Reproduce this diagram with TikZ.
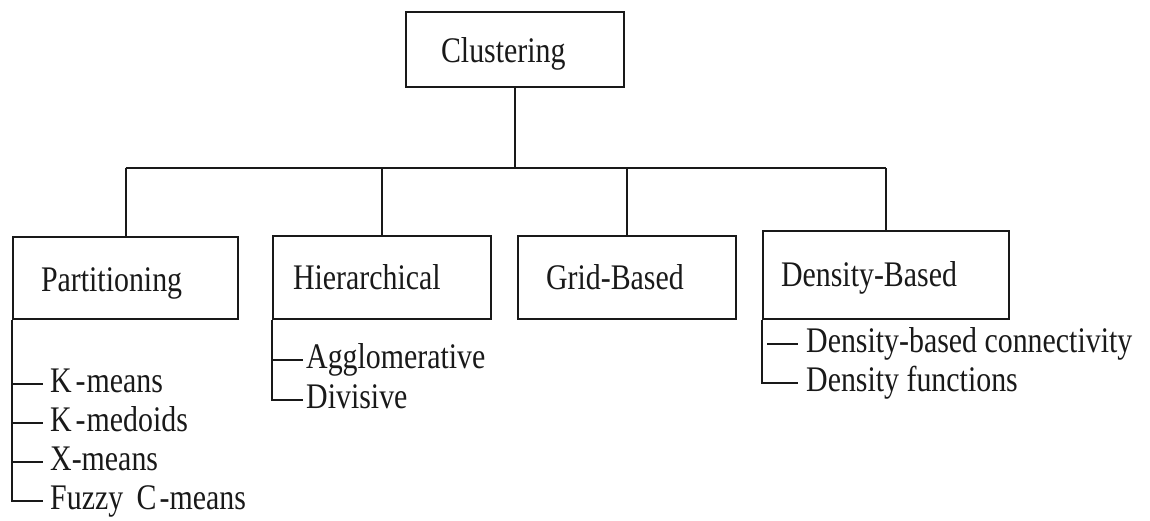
\documentclass[tikz,border=0pt]{standalone}
\usepackage{fontspec}
\setmainfont[FakeStretch=0.83]{Liberation Serif}
\usetikzlibrary{calc}
\begin{document}
\begin{tikzpicture}[x=1pt,y=-1pt,
  every node/.style={font=\fontsize{36}{42}\selectfont, text=black!90},
  cbox/.style={draw=black!90, line width=2.1pt, anchor=north west, inner ysep=0pt, align=left},
  item/.style={anchor=base west, inner sep=0pt, text height=16pt, text depth=0pt},
  link/.style={draw=black!90, line width=2.1pt}]
\useasboundingbox (0,0) rectangle (1150,520);

% root and category boxes
\node[cbox, inner xsep=35pt, text width=148pt, text height=50pt, text depth=25pt] (clust) at (405,11) {Clustering};
\node[cbox, inner xsep=28pt, text width=169pt, text height=54pt, text depth=28pt] (part) at (12,236) {Partitioning};
\node[cbox, inner xsep=20pt, text width=178pt, text height=53pt, text depth=30pt] (hier) at (272,235) {Hierarchical};
\node[cbox, inner xsep=28pt, text width=162pt, text height=53pt, text depth=30pt] (grid) at (517,235) {Grid-Based};
\node[cbox, inner xsep=18pt, text width=210pt, text height=55pt, text depth=33pt] (dens) at (762,230) {Density-Based};

% tree connectors
\coordinate (bus) at (514,168);
\draw[link] (clust.south) -- (clust.south |- bus);
\draw[link] (part.north |- bus) -- (dens.north |- bus);
\foreach \b in {part,hier,grid,dens}
  \draw[link] (\b.north |- bus) -- (\b.north);

% partitioning methods
\node[item] (km)  at (50,392) {K\kern4pt-\kern1pt means};
\node[item] (kmd) at (50,431) {K\kern4pt-\kern1pt medoids};
\node[item] (xm)  at (50,470) {X-means};
\node[item] (fcm) at (50,509) {Fuzzy\hspace{6pt} C\kern3pt-means};
\draw[link] (part.south west) |- ([xshift=-7pt]fcm.west);
\foreach \n in {km,kmd,xm}
  \draw[link] (part.south west |- \n.west) -- ([xshift=-7pt]\n.west);

% hierarchical methods
\node[item] (agg) at (306,368) {Agglomerative};
\node[item] (div) at (306,408) {Divisive};
\draw[link] (hier.south west) |- ([xshift=-3pt]div.west);
\draw[link] (hier.south west |- agg.west) -- ([xshift=-3pt]agg.west);

% density-based methods
\node[item] (dcon) at (806,352) {Density-based connectivity};
\node[item] (dfun) at (806,391) {Density functions};
\draw[link] (dens.south west) |- ([xshift=-8pt]dfun.west);
\draw[link] ($(dens.south west |- dcon.west)+(5,0)$) -- ([xshift=-8pt]dcon.west);
\end{tikzpicture}
\end{document}
